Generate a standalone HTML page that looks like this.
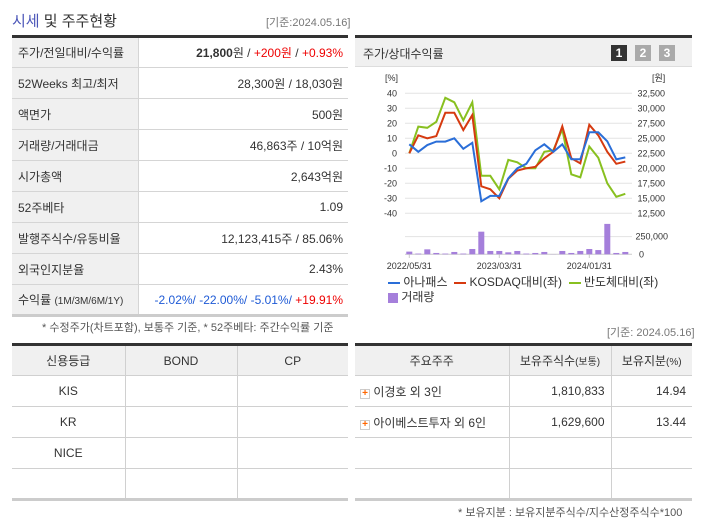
<!DOCTYPE html>
<html><head><meta charset="utf-8">
<style>
*{margin:0;padding:0;box-sizing:border-box}
body{width:702px;height:525px;background:#fff;font-family:"Liberation Sans","Noto Sans CJK KR",sans-serif;font-size:12px;color:#333;position:relative;overflow:hidden}
.abs{position:absolute}
table{border-collapse:collapse;position:absolute;table-layout:fixed}
td,th{font-weight:normal}
#t1{left:12px;top:35px;width:336px;border-top:3px solid #333}
#t1 td{height:31px;border-bottom:1px solid #d5d5d5;padding:0 6px;font-size:12px}
#t1 td.l{background:#f0f0f0;width:126px;border-right:1px solid #d5d5d5;color:#333}
#t1 td.r{text-align:right;padding-right:5px;color:#333}
.tb{border-top:3px solid #333}
.tb th{background:#f0f0f0;height:31px;border-bottom:1px solid #d0d0d0;border-right:1px solid #d0d0d0;font-size:12px;color:#333}
.tb td{height:31px;border-bottom:1px solid #d0d0d0;border-right:1px solid #d0d0d0;font-size:12px;color:#333}
.tb tr:last-child td{border-bottom:3px solid #ccc}
.tb th:last-child,.tb td:last-child{border-right:none}
.red{color:#e00}.blue{color:#1f5bd6}
</style></head><body>
<div class="abs" style="left:12px;top:10px;font-size:15px;color:#333"><span style="color:#4a55b8">시세</span> 및 주주현황</div>
<div class="abs" style="left:266px;top:14px;font-size:11px;color:#777">[기준:2024.05.16]</div>

<table id="t1">
<tr><td class="l">주가/전일대비/수익률</td><td class="r"><b>21,800</b>원 / <span class="red">+200원</span> / <span class="red">+0.93%</span></td></tr>
<tr><td class="l">52Weeks 최고/최저</td><td class="r">28,300원 / 18,030원</td></tr>
<tr><td class="l">액면가</td><td class="r">500원</td></tr>
<tr><td class="l">거래량/거래대금</td><td class="r">46,863주 / 10억원</td></tr>
<tr><td class="l">시가총액</td><td class="r">2,643억원</td></tr>
<tr><td class="l">52주베타</td><td class="r">1.09</td></tr>
<tr><td class="l">발행주식수/유동비율</td><td class="r">12,123,415주 / 85.06%</td></tr>
<tr><td class="l">외국인지분율</td><td class="r">2.43%</td></tr>
<tr><td class="l" style="border-bottom:3px solid #ccc">수익률 <span style="font-size:10px">(1M/3M/6M/1Y)</span></td><td class="r" style="border-bottom:3px solid #ccc"><span class="blue">-2.02%/ -22.00%/ -5.01%/</span> <span class="red">+19.91%</span></td></tr>
</table>
<div class="abs" style="left:42px;top:319px;font-size:11px;color:#555">* 수정주가(차트포함), 보통주 기준, * 52주베타: 주간수익률 기준</div>

<div class="abs" style="left:355px;top:35px;width:337px;height:32px;background:#f0f0f0;border-top:3px solid #333;border-bottom:1px solid #ddd">
<span style="position:absolute;left:8px;top:7px;font-size:12px">주가/상대수익률</span>
<span style="position:absolute;left:256px;top:7px;width:16px;height:16px;background:#333;color:#fff;font-weight:bold;text-align:center;line-height:16px;font-size:12px">1</span>
<span style="position:absolute;left:280px;top:7px;width:16px;height:16px;background:#aaa;color:#fff;font-weight:bold;text-align:center;line-height:16px;font-size:12px">2</span>
<span style="position:absolute;left:304px;top:7px;width:16px;height:16px;background:#aaa;color:#fff;font-weight:bold;text-align:center;line-height:16px;font-size:12px">3</span>
</div>

<svg class="abs" style="left:0;top:0" width="702" height="525">
<g id="grid"></g><g id="vol"></g><g id="lines"></g><g id="labels" font-family="Liberation Sans, sans-serif" font-size="9" fill="#333"></g>
</svg>

<div class="abs" style="left:388px;top:275px;font-size:12px;color:#333;width:310px;line-height:15px">
<span><span style="display:inline-block;width:12px;height:2px;background:#2a6ed8;vertical-align:middle"></span> 아나패스</span>
&nbsp;<span><span style="display:inline-block;width:12px;height:2px;background:#d63a10;vertical-align:middle"></span> KOSDAQ대비(좌)</span>
&nbsp;<span><span style="display:inline-block;width:12px;height:2px;background:#88c020;vertical-align:middle"></span> 반도체대비(좌)</span><br>
<span><span style="display:inline-block;width:10px;height:10px;background:#a57fdb;vertical-align:middle"></span> 거래량</span>
</div>

<div class="abs" style="left:607px;top:324px;font-size:11px;color:#777">[기준: 2024.05.16]</div>

<table class="tb" style="left:12px;top:343px;width:336px">
<tr><th style="width:113px">신용등급</th><th style="width:112px">BOND</th><th>CP</th></tr>
<tr><td style="text-align:center">KIS</td><td></td><td></td></tr>
<tr><td style="text-align:center">KR</td><td></td><td></td></tr>
<tr><td style="text-align:center">NICE</td><td></td><td></td></tr>
<tr><td></td><td></td><td></td></tr>
</table>

<table class="tb" style="left:355px;top:343px;width:337px">
<tr><th style="width:154px">주요주주</th><th style="width:102px">보유주식수<span style="font-size:10px">(보통)</span></th><th>보유지분<span style="font-size:10px">(%)</span></th></tr>
<tr><td style="padding-left:5px"><span style="display:inline-block;width:10px;height:10px;border:1px solid #ccc;color:#f60;font-size:10px;line-height:8px;text-align:center;font-weight:bold">+</span> 이경호 외 3인</td><td style="text-align:right;padding-right:6px">1,810,833</td><td style="text-align:right;padding-right:6px">14.94</td></tr>
<tr><td style="padding-left:5px"><span style="display:inline-block;width:10px;height:10px;border:1px solid #ccc;color:#f60;font-size:10px;line-height:8px;text-align:center;font-weight:bold">+</span> 아이베스트투자 외 6인</td><td style="text-align:right;padding-right:6px">1,629,600</td><td style="text-align:right;padding-right:6px">13.44</td></tr>
<tr><td></td><td></td><td></td></tr>
<tr><td></td><td></td><td></td></tr>
</table>
<div class="abs" style="left:458px;top:504px;font-size:11px;color:#555">* 보유지분 : 보유지분주식수/지수산정주식수*100</div>

<script>
const anapass=[6,1,5.5,7.8,7.8,10,3,7,-32,-28.4,-28.4,-16.7,-10,-7,2,6,1,6,-4,-4,14,14,8,-4,-2.7];
const kosdaq=[0,12,10,11.5,27,27,15.5,25.5,-22,-24,-30,-17,-11.5,-10,-9,-3.3,1,18,-3.3,-6.7,19,12,1,-7,-5.5];
const semi=[0,17.8,17,21,37,34,22,34,-15,-15,-24,-4.4,-6,-10,-10,1,2,16,-14,-16,4.5,-3,-20,-29,-27];
const volume=[38000,10000,70000,19000,10000,33000,10000,75000,320000,47000,47000,28000,47000,10000,19000,33000,2000,47000,19000,47000,75000,60000,430000,19000,33000];
const leftTicks=[40,30,20,10,0,-10,-20,-30,-40];
const rightTicks=["32,500","30,000","27,500","25,000","22,500","20,000","17,500","15,000","12,500"];
const dateLabels=["2022/05/31","2023/03/31","2024/01/31"];
const dateIdx=[0,10,20];
const NS="http://www.w3.org/2000/svg";
const X=i=>409.3+9*i;
const Y=p=>153.3-1.5*p;
const VY=v=>254.3-v*0.0000707;
function mk(t,a,parent){const e=document.createElementNS(NS,t);for(const k in a)e.setAttribute(k,a[k]);document.getElementById(parent).appendChild(e);return e;}
leftTicks.forEach((t,i)=>{
  const y=Y(t);
  const g=mk('line',{x1:405,x2:632,y1:y,y2:y,stroke:'#e3e3e3'},'grid');
  
  
  const l=mk('text',{x:397,y:y+3,'text-anchor':'end'},'labels');l.textContent=t;
  
  
  const r=mk('text',{x:665,y:y+3,'text-anchor':'end'},'labels');r.textContent=rightTicks[i];
  
  
});
[[250000,'250,000'],[0,'0']].forEach(([v,s])=>{
  const y=VY(v);
  mk('line',{x1:405,x2:632,y1:y,y2:y,stroke:v?'#e3e3e3':'#ccc'},'grid');
  const r=mk('text',{x:v?668:644,y:y+3,'text-anchor':'end'},'labels');r.textContent=s;
  
  
});
let t=mk('text',{x:385,y:81},'labels');t.textContent='[%]';
t=mk('text',{x:652,y:81},'labels');t.textContent='[원]';
dateIdx.forEach((d,i)=>{
  const x=X(d);
  mk('line',{x1:x,x2:x,y1:254,y2:258,stroke:'#ccc'},'grid');
  const l=mk('text',{x:x,y:269,'text-anchor':'middle'},'labels');l.textContent=dateLabels[i];
  
  
});
volume.forEach((v,i)=>{
  const y=VY(v);
  const b=mk('rect',{x:X(i)-3,y:y,width:6,height:254.3-y,fill:'#a57fdb'},'vol');
  
  
});
[[semi,'#88c020','semi-line'],[kosdaq,'#d63a10','kosdaq-line'],[anapass,'#2a6ed8','anapass-line']].forEach(([d,c,n])=>{
  const p=mk('polyline',{points:d.map((v,i)=>X(i)+','+Y(v)).join(' '),fill:'none',stroke:c,'stroke-width':2},'lines');
  
  
});
</script>
</body></html>
